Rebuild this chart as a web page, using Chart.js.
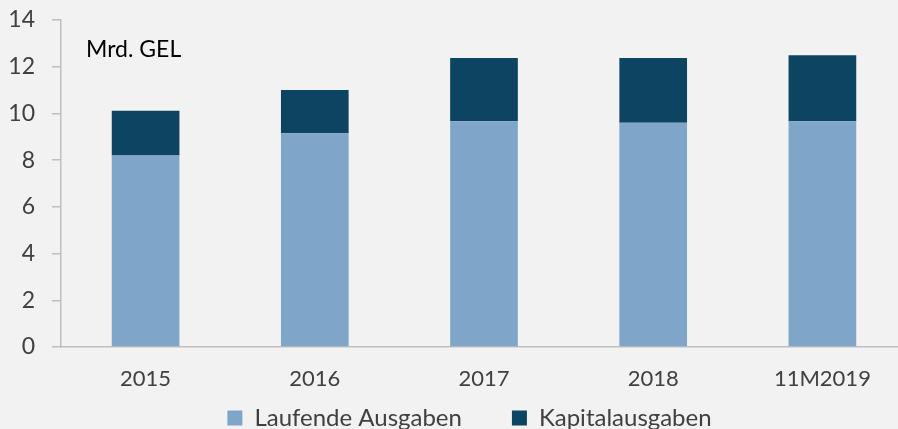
<!DOCTYPE html>
<html>
<head>
<meta charset="utf-8">
<script src="https://cdn.jsdelivr.net/npm/chart.js@4"></script>
<style>
  html, body { margin: 0; padding: 0; background: #f2f2f2; overflow: hidden; }
  #wrap { position: relative; width: 910px; height: 429px; }
</style>
</head>
<body>
<div id="wrap"><canvas id="chart"></canvas></div>
<script>
// Daten (Mrd. GEL)
const years = ['2015', '2016', '2017', '2018', '11M2019'];
const laufendeAusgaben = [8.2, 9.15, 9.67, 9.6, 9.66];
const kapitalAusgaben = [1.91, 1.85, 2.7, 2.77, 2.83];
const yTicks = [0, 2, 4, 6, 8, 10, 12, 14];
const unitLabel = 'Mrd. GEL';

const fontFamily = 'Lato, "Open Sans", sans-serif';
const textColor = '#404040';
const axisColor = '#bfbfbf';

// Einheit oben links im Diagramm
const unitPlugin = {
    id: 'unitLabel',
    afterDraw(chart) {
        const ctx = chart.ctx;
        const area = chart.chartArea;
        ctx.save();
        ctx.font = '23px ' + fontFamily;
        ctx.fillStyle = '#000000';
        ctx.textBaseline = 'middle';
        ctx.fillText(unitLabel, area.left + 25, area.top + 30);
        ctx.restore();
    }
};

// Legende verschieben (wie im Original), clip-Bereich bis unten
const legendShift = {
    id: 'legendShift',
    afterLayout(chart) {
        const lg = chart.legend;
        lg.left = 0;
        lg.right = 939;
        lg.width = 939;
        lg.top = 418 - 50 - 12;
        lg.bottom = 429;
        lg.height = lg.bottom - lg.top;
    }
};

new Chart(document.getElementById('chart'), {
    type: 'bar',
    data: {
        labels: years,
        datasets: [
            {
                label: 'Laufende Ausgaben',
                data: laufendeAusgaben,
                backgroundColor: '#7fa6c9',
                borderWidth: 0,
            },
            {
                label: 'Kapitalausgaben',
                data: kapitalAusgaben,
                backgroundColor: '#0d4461',
                borderWidth: 0,
            },
        ]
    },
    options: {
        responsive: true,
        maintainAspectRatio: false,
        animation: false,
        layout: { padding: { left: 0, right: 3, top: 20, bottom: 0 } },
        datasets: {
            bar: { categoryPercentage: 0.8, barPercentage: 0.5 }
        },
        plugins: {
            tooltip: { enabled: false },
            legend: {
                position: 'bottom',
                maxHeight: 30,
                labels: {
                    boxWidth: 15,
                    boxHeight: 15,
                    padding: 50,
                    color: textColor,
                    font: { family: fontFamily, size: 24 },
                }
            }
        },
        scales: {
            x: {
                stacked: true,
                grid: { display: true, drawOnChartArea: false, drawTicks: false },
                border: { display: true, color: axisColor, width: 1.5 },
                ticks: {
                    color: textColor,
                    padding: 19,
                    font: { family: fontFamily, size: 22 },
                },
                afterFit(scale) { scale.height = 52; }
            },
            y: {
                stacked: true,
                min: 0,
                max: 14,
                afterBuildTicks(scale) { scale.ticks = yTicks.map(v => ({ value: v })); },
                grid: { display: true, drawOnChartArea: false, drawTicks: true, tickLength: 9, color: axisColor, lineWidth: 1.5 },
                border: { display: true, color: axisColor, width: 1.5 },
                ticks: {
                    color: textColor,
                    padding: 17,
                    font: { family: fontFamily, size: 23 },
                },
                afterFit(scale) {
                    scale.width = 61;
                    scale.paddingTop = 0;
                }
            }
        }
    },
    plugins: [unitPlugin, legendShift]
});
</script>
</body>
</html>
